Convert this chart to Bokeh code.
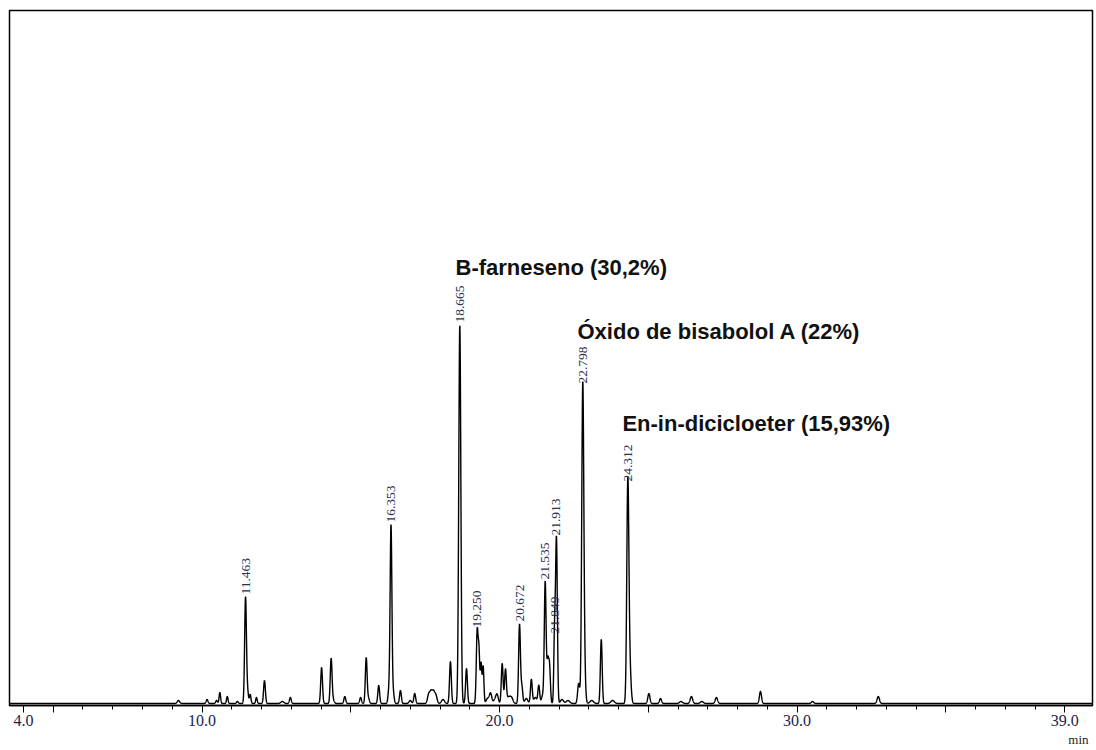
import numpy as np
from bokeh.plotting import figure
from bokeh.models import Range1d, FixedTicker, Title, ColumnDataSource
from bokeh.core.properties import value
from bokeh.embed import file_html
from bokeh.resources import INLINE

# ---- data (retention time in min, peak height in relative units) ----
peak_rt = [9.21, 10.17, 10.49, 10.60, 10.85, 11.19, 11.463, 11.53, 11.62, 11.83, 12.10, 12.70, 12.97,
           14.02, 14.34, 14.40, 14.80, 15.33, 15.52, 15.60, 15.94, 16.28, 16.353, 16.43, 16.67, 17.00,
           17.15, 17.62, 17.70, 17.78, 17.86, 18.10, 18.35, 18.665, 18.89, 19.250, 19.31, 19.38, 19.45,
           19.60, 19.70, 19.85, 19.92, 20.09, 20.20, 20.30, 20.40, 20.672, 20.75, 20.90, 21.07, 21.20,
           21.32, 21.45, 21.535, 21.62, 21.68, 21.849, 21.913, 22.10, 22.30, 22.66, 22.798, 22.86, 23.10,
           23.42, 23.80, 24.312, 24.38, 25.02, 25.41, 26.10, 26.45, 26.80, 27.29, 28.77, 30.52, 32.73]
peak_h = [3, 4, 3, 11, 7, 2, 106, 12, 9, 6, 23, 2, 6,
          36, 44, 4, 7, 6, 46, 5, 18, 12, 178, 10, 13, 3,
          10, 9, 11, 11, 8, 4, 42, 378, 35, 73, 48, 40, 37,
          5, 10, 4, 8, 40, 34, 6, 6, 79, 17, 5, 24, 6,
          18, 8, 121, 40, 36, 67, 165, 4, 3, 20, 317, 24, 3,
          64, 3, 219, 34, 10, 5, 2, 7, 2, 6, 12, 2, 7]
peak_w = [0.04, 0.03, 0.03, 0.025, 0.025, 0.03, 0.03, 0.03, 0.025, 0.025, 0.03, 0.05, 0.03,
          0.03, 0.03, 0.04, 0.03, 0.03, 0.03, 0.03, 0.03, 0.03, 0.03, 0.03, 0.03, 0.04,
          0.03, 0.04, 0.04, 0.04, 0.04, 0.05, 0.03, 0.035, 0.03, 0.03, 0.025, 0.025, 0.025,
          0.05, 0.04, 0.05, 0.04, 0.03, 0.03, 0.05, 0.05, 0.03, 0.03, 0.05, 0.03, 0.05,
          0.03, 0.04, 0.03, 0.03, 0.03, 0.025, 0.03, 0.05, 0.06, 0.035, 0.035, 0.035, 0.06,
          0.03, 0.06, 0.035, 0.04, 0.035, 0.035, 0.05, 0.04, 0.05, 0.04, 0.035, 0.04, 0.04]

# labelled peaks
label_rt = [11.463, 16.353, 18.665, 19.250, 20.672, 21.535, 21.849, 21.913, 22.798, 24.312]
label_h = [106, 178, 378, 73, 79, 121, 67, 165, 317, 219]
label_txt = ["11.463", "16.353", "18.665", "19.250", "20.672", "21.535", "21.849", "21.913", "22.798", "24.312"]

# compound annotations
ann_txt = ["B-farneseno (30,2%)", "Óxido de bisabolol A (22%)", "En-in-dicicloeter (15,93%)"]
ann_x = [18.52, 22.62, 24.13]
ann_y = [436, 372, 280]

tick_vals = [4, 5, 10, 15, 20, 25, 30, 35, 39]
tick_labels = {4: "4.0", 5: "", 10: "10.0", 15: "", 20: "20.0", 25: "", 30: "30.0", 35: "", 39: "39.0"}

# ---- build trace from the peak table ----
t = np.arange(3.5, 40.0, 0.004)
y = np.zeros_like(t)
for rt, h, w in zip(peak_rt, peak_h, peak_w):
    y += h * np.exp(-0.5 * ((t - rt) / w) ** 2)

p = figure(width=1096, height=750, output_backend="svg", toolbar_location=None,
           x_range=Range1d(3.53, 39.93), y_range=Range1d(-2, 693),
           min_border_left=9, min_border_right=4, min_border_top=10, min_border_bottom=45)
p.background_fill_color = "white"
p.border_fill_color = "white"
p.outline_line_color = "black"
p.outline_line_width = 1.5
p.grid.visible = False
p.yaxis.visible = False

ax = p.xaxis[0]
ax.ticker = FixedTicker(ticks=tick_vals, minor_ticks=list(range(4, 40)))
ax.major_label_overrides = tick_labels
ax.axis_line_color = "black"
ax.axis_line_width = 1.5
ax.major_tick_in = 0
ax.major_tick_out = 7
ax.minor_tick_in = 0
ax.minor_tick_out = 4
ax.major_tick_line_color = "black"
ax.minor_tick_line_color = "black"
ax.major_label_text_font = "Liberation Serif"
ax.major_label_text_font_size = "16px"
ax.major_label_text_color = "#1c2448"
ax.major_label_standoff = 2

p.line(t, y, line_color="black", line_width=1.4)

src = ColumnDataSource(dict(x=label_rt, y=[h + 3 for h in label_h], txt=label_txt))
p.text(x="x", y="y", text="txt", source=src, angle=np.pi / 2, text_align="left",
       text_baseline="middle", text_font=value("Liberation Serif"), text_font_size="13.5px",
       text_color="#2a3050")

asrc = ColumnDataSource(dict(x=ann_x, y=ann_y, txt=ann_txt))
p.text(x="x", y="y", text="txt", source=asrc, text_align="left", text_baseline="middle",
       text_font=value("Liberation Sans"), text_font_style="bold", text_font_size="22px",
       text_color="#111111")

p.add_layout(Title(text="min", align="right", text_font="Liberation Serif",
                   text_font_size="13px", text_font_style="normal", text_color="#222222",
                   offset=4, standoff=2), "below")

open("out.html", "w").write(file_html(p, INLINE))
